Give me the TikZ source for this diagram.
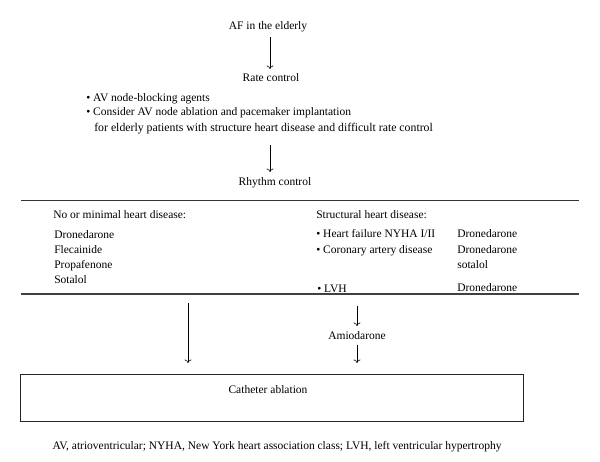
\documentclass[tikz,border=0pt]{standalone}
\usepackage{fontspec}
\setmainfont{Liberation Serif}
\usetikzlibrary{positioning,arrows.meta}

\begin{document}
\begin{tikzpicture}[x=1pt,y=-1pt,font=\fontsize{11.5}{13}\selectfont,inner sep=0pt,
  >={To[length=3.5pt,width=7pt]},line width=0.6pt]
\useasboundingbox (0,0) rectangle (600,462);
% top of the chart
\node[anchor=mid] (af) at (268,27) {AF in the elderly};
\node[anchor=mid] (rate) at (271,79) {Rate control};
\node[anchor=mid west] (b1) at (86,99) {\textbullet\ AV node-blocking agents};
\node[anchor=mid west] (b2) at (86,113) {\textbullet\ Consider AV node ablation and pacemaker implantation};
\node[anchor=mid west,font=\fontsize{11.8}{13}\selectfont] (b3) at (94,129) {for elderly patients with structure heart disease and difficult rate control};
\node[anchor=mid] (rhythm) at (275,183) {Rhythm control};
\draw[->,shorten <=5pt,shorten >=4pt] (af.south -| 270,0) -- (rate.north -| 270,0);
\draw[->,shorten <=11pt,shorten >=5pt] (b3.south -| 270,0) -- (rhythm.north -| 270,0);

% table
\draw[black!80] (21,200) -- (579,200);
\draw[line width=1.1pt,black!75] (21,294) -- (579,294);
\node[anchor=mid west] (nohd) at (53,216) {No or minimal heart disease:};
\foreach \drug [count=\i] in {Dronedarone,Flecainide,Propafenone,Sotalol}
  \node[anchor=mid west] (d\i) at (54,{221+15*\i}) {\drug};
\node[anchor=mid west] (shd) at (316,216) {Structural heart disease:};
\node[anchor=mid west] (hf) at (316,235) {\textbullet\ Heart failure NYHA I/II};
\node[anchor=mid west] (cad) at (316,251) {\textbullet\ Coronary artery disease};
\node[anchor=mid west] (lvh) at (317,290) {\textbullet\ LVH};
\node[anchor=mid west] (hfd) at (457,235) {Dronedarone};
\node[anchor=mid west] (cadd) at (457,251) {Dronedarone};
\node[anchor=mid west] (cads) at (457,266) {sotalol};
\node[anchor=mid west] (lvhd) at (457,289) {Dronedarone};

% bottom
\coordinate (lsplit) at (188,294);
\coordinate (rsplit) at (357,294);
\node[anchor=mid] (amio) at (357,337) {Amiodarone};
\node[draw,black!85,minimum width=503,minimum height=47,anchor=north west] (ablation) at (20,374) {};
\node[anchor=mid] (ablabel) at (268,391) {Catheter ablation};
\draw[->,shorten <=9pt,shorten >=11pt] (lsplit) -- (lsplit |- ablation.north);
\draw[->,shorten <=12pt,shorten >=5pt] (rsplit) -- (rsplit |- amio.north);
\draw[->,shorten <=5pt,shorten >=11pt] (rsplit |- amio.south) -- (rsplit |- ablation.north);
\node[anchor=mid] (abbrev) at (277,447) {AV, atrioventricular; NYHA, New York heart association class; LVH, left ventricular hypertrophy};
\end{tikzpicture}
\end{document}
